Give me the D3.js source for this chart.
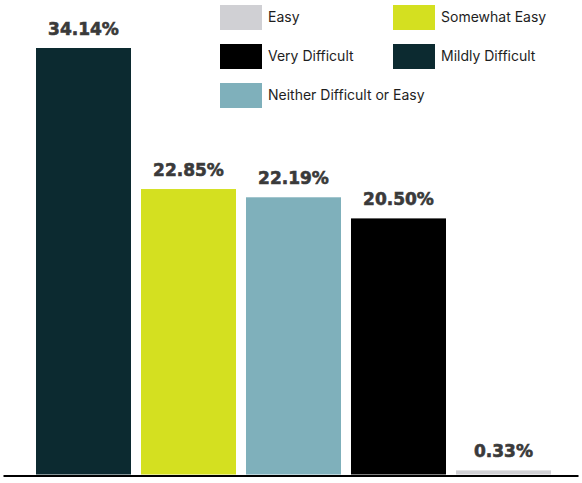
<!DOCTYPE html>
<html>
<head>
<meta charset="utf-8">
<script src="https://cdn.jsdelivr.net/npm/d3@7"></script>
<style>
  body { margin: 0; background: #fff; }
  svg { display: block; }
</style>
</head>
<body>
<div id="myPlot"></div>
<script>
// chart data
const categories = ["Mildly Difficult", "Somewhat Easy", "Neither Difficult or Easy", "Very Difficult", "Easy"];
const values = [34.14, 22.85, 22.19, 20.50, 0.33];
const colors = ["#0c2a30", "#d4e020", "#7fb0bb", "#000000", "#d0d0d4"];

// legend order as shown
const legendItems = ["Easy", "Somewhat Easy", "Very Difficult", "Mildly Difficult", "Neither Difficult or Easy"];

const width = 582;
const height = 483;

const svg = d3.select("#myPlot")
  .append("svg")
  .attr("width", width)
  .attr("height", height);

const color = d3.scaleOrdinal().domain(categories).range(colors);

// X
const x = d3.scaleBand()
  .domain(categories)
  .range([36, 551])
  .paddingInner(10 / 105)
  .paddingOuter(0);

// Y
const y = d3.scaleLinear()
  .domain([0, 34.14])
  .range([474.5, 48]);

// bars
svg.append("g")
  .selectAll("rect")
  .data(categories).enter()
  .append("rect")
  .attr("x", d => x(d))
  .attr("y", (d, i) => y(values[i]))
  .attr("width", x.bandwidth())
  .attr("height", (d, i) => y(0) - y(values[i]))
  .style("fill", d => color(d));

// value labels
svg.append("g")
  .selectAll("text")
  .data(categories).enter()
  .append("text")
  .attr("x", d => x(d) + x.bandwidth() / 2)
  .attr("y", (d, i) => y(values[i]) - 13)
  .attr("text-anchor", "middle")
  .style("font-family", "'DejaVu Sans', sans-serif")
  .style("font-weight", "bold")
  .style("font-size", "17px")
  .style("fill", "#3a3a3a")
  .style("stroke", "#3a3a3a")
  .style("stroke-width", 0.6)
  .text((d, i) => values[i].toFixed(2) + "%");

// baseline
svg.append("g")
  .attr("transform", "translate(0," + 475.5 + ")")
  .call(d3.axisBottom(d3.scaleLinear().range([3, 578])).ticks(0).tickSizeOuter(0))
  .call(g => g.select(".domain").attr("stroke", "#000").attr("stroke-width", 2));

// legend
const legend = svg.append("g");
const item = legend.selectAll("g")
  .data(legendItems).enter()
  .append("g")
  .attr("transform", (d, i) => "translate(" + (i % 2 === 0 ? 220 : 393) + "," + (5 + Math.floor(i / 2) * 39) + ")");

item.append("rect")
  .attr("width", 42)
  .attr("height", 25)
  .style("fill", d => color(d));

item.append("text")
  .attr("x", 48)
  .attr("y", 12.5)
  .attr("dy", "0.35em")
  .style("font-family", "Inter, sans-serif")
  .style("font-size", "14px")
  .style("fill", "#1e1e1e")
  .text(d => d);
</script>
</body>
</html>
